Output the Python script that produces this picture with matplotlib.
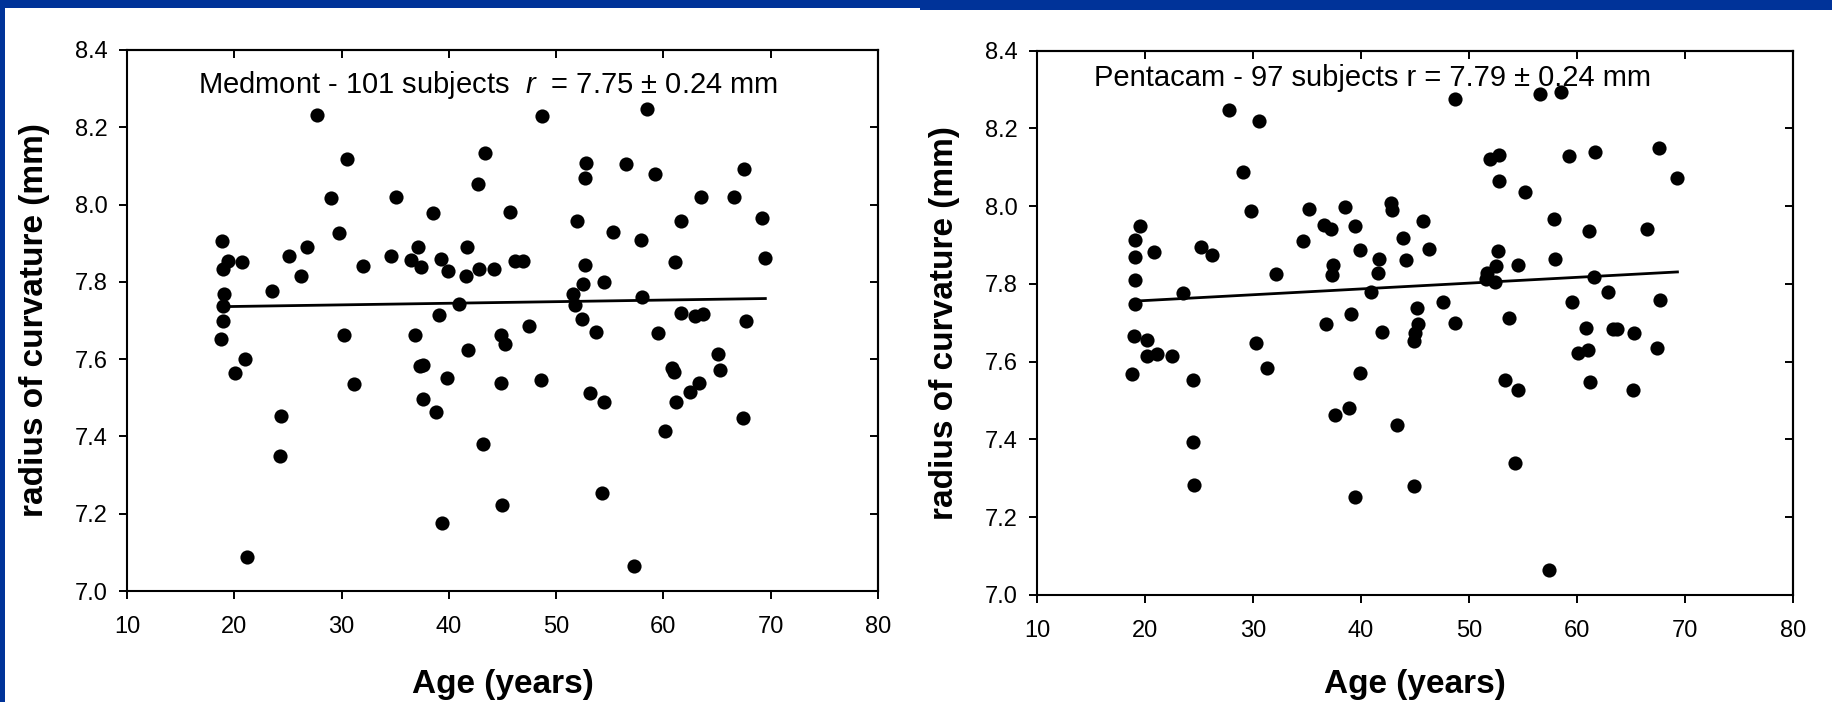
import matplotlib
matplotlib.use("Agg")
import matplotlib.pyplot as plt
from matplotlib.patches import Rectangle
import numpy as np

plt.rcParams['font.family'] = 'Liberation Sans'
plt.rcParams['mathtext.fontset'] = 'custom'
plt.rcParams['mathtext.it'] = 'Liberation Sans:italic'
plt.rcParams['mathtext.rm'] = 'Liberation Sans'

# Medmont readings: age (years) and radius of curvature (mm)
medmont_age = [27.7, 30.5, 43.4, 42.7, 29.0, 35.1, 38.5, 45.7, 29.8, 18.9,
               26.8, 37.1, 41.7, 25.1, 34.6, 19.4, 20.7, 36.5, 39.3, 46.2,
               46.9, 18.95, 32.0, 37.4, 39.9, 42.8, 44.2, 41.6, 26.2, 23.5,
               19.0, 18.95, 40.9, 18.95, 39.1, 18.8, 30.2, 36.8, 41.8, 44.9,
               45.2, 21.0, 37.3, 37.6, 20.1, 31.2, 39.8, 37.6, 38.8, 24.4,
               24.3, 43.2, 45.0, 39.4, 21.2, 48.7, 58.5, 52.8, 52.7, 56.5,
               59.2, 67.5, 63.5, 66.6, 51.9, 61.6, 69.2, 55.3, 57.9, 52.7,
               61.1, 69.5, 52.5, 54.5, 51.6, 51.8, 58.0, 52.4, 61.6, 62.9,
               63.7, 67.7, 47.5, 53.7, 59.5, 65.1, 60.8, 61.0, 65.3, 48.6,
               44.9, 63.3, 62.5, 53.2, 54.5, 61.2, 67.4, 60.1, 54.3, 57.3]
medmont_r = [8.233, 8.118, 8.133, 8.053, 8.017, 8.019, 7.978, 7.980, 7.927, 7.906,
             7.890, 7.890, 7.891, 7.867, 7.868, 7.855, 7.852, 7.857, 7.860, 7.855,
             7.855, 7.832, 7.841, 7.838, 7.828, 7.832, 7.832, 7.814, 7.815, 7.776,
             7.769, 7.737, 7.743, 7.699, 7.715, 7.653, 7.662, 7.662, 7.624, 7.662,
             7.639, 7.601, 7.582, 7.586, 7.563, 7.536, 7.551, 7.496, 7.463, 7.453,
             7.349, 7.381, 7.222, 7.176, 7.088, 8.229, 8.247, 8.108, 8.068, 8.105,
             8.080, 8.092, 8.020, 8.019, 7.957, 7.958, 7.966, 7.929, 7.908, 7.843,
             7.852, 7.863, 7.795, 7.800, 7.769, 7.740, 7.760, 7.704, 7.719, 7.712,
             7.717, 7.699, 7.686, 7.669, 7.667, 7.614, 7.578, 7.568, 7.573, 7.546,
             7.539, 7.539, 7.516, 7.512, 7.489, 7.489, 7.448, 7.413, 7.254, 7.065]

# Pentacam readings
pentacam_age = [27.8, 30.6, 29.1, 29.8, 35.2, 38.5, 42.8, 42.9, 45.7, 19.5,
                19.1, 19.1, 20.8, 19.1, 25.2, 26.2, 34.6, 36.6, 37.2, 39.4,
                39.9, 37.4, 37.3, 32.1, 41.7, 41.6, 43.9, 44.2, 23.5, 40.9,
                19.1, 39.1, 36.8, 45.2, 41.9, 19.0, 20.2, 30.3, 45.3, 45.0,
                44.9, 48.7, 56.6, 58.5, 51.9, 52.8, 59.3, 61.7, 67.6, 69.3,
                52.8, 55.2, 57.9, 61.1, 66.5, 46.3, 52.7, 52.5, 51.7, 51.6,
                52.4, 54.5, 58.0, 61.6, 62.9, 67.7, 59.5, 47.6, 48.7, 53.7,
                60.8, 63.3, 63.7, 65.3, 67.4, 60.1, 61.0, 53.3, 54.5, 61.2,
                65.2, 43.3, 54.3, 44.9, 57.4, 20.2, 21.1, 22.5, 18.8, 24.4,
                31.3, 39.9, 37.6, 38.9, 24.4, 24.5, 39.4]
pentacam_r = [8.248, 8.220, 8.087, 7.988, 7.993, 7.997, 8.008, 7.989, 7.961, 7.948,
              7.914, 7.870, 7.883, 7.811, 7.895, 7.874, 7.911, 7.952, 7.942, 7.949,
              7.887, 7.848, 7.824, 7.825, 7.863, 7.827, 7.917, 7.862, 7.776, 7.780,
              7.749, 7.723, 7.698, 7.739, 7.676, 7.666, 7.656, 7.647, 7.696, 7.673,
              7.654, 8.275, 8.289, 8.294, 8.121, 8.132, 8.130, 8.140, 8.150, 8.073,
              8.065, 8.037, 7.967, 7.935, 7.941, 7.890, 7.884, 7.845, 7.829, 7.813,
              7.804, 7.849, 7.863, 7.818, 7.779, 7.758, 7.753, 7.753, 7.700, 7.712,
              7.688, 7.683, 7.683, 7.674, 7.636, 7.623, 7.630, 7.553, 7.526, 7.548,
              7.526, 7.436, 7.339, 7.280, 7.064, 7.614, 7.619, 7.616, 7.569, 7.552,
              7.584, 7.572, 7.463, 7.480, 7.394, 7.283, 7.253]

# regression lines (intercept, slope)
medmont_fit = [7.728, 0.000415]
pentacam_fit = [7.7275, 0.001493]

x_ticks = [10, 20, 30, 40, 50, 60, 70, 80]
y_ticks = [7.0, 7.2, 7.4, 7.6, 7.8, 8.0, 8.2, 8.4]

W, H = 1833, 702
fig = plt.figure(figsize=(W / 100, H / 100), dpi=100)

# blue slide border
blue = '#003399'
fig.add_artist(Rectangle((0, 1 - 8 / H), 920 / W, 8 / H, transform=fig.transFigure,
                         color=blue, lw=0))
fig.add_artist(Rectangle((920 / W, 1 - 9.5 / H), (W - 920) / W, 9.5 / H,
                         transform=fig.transFigure, color=blue, lw=0))
fig.add_artist(Rectangle((0, 0), 5 / W, 1, transform=fig.transFigure, color=blue, lw=0))


def scatter_panel(ax, age, r, fit, label, label_x, label_y):
    ax.plot(age, r, 'o', color='black', ms=10.2, mec='black', mew=0, zorder=3)
    xs = np.array([min(age), max(age)])
    ax.plot(xs, fit[0] + fit[1] * xs, color='black', lw=2.0, zorder=2)
    ax.text(label_x, label_y, label, fontsize=21, ha='left', va='baseline')

    ax.set_xlim(10, 80)
    ax.set_ylim(7.0, 8.4)
    ax.set_xticks(x_ticks)
    ax.set_yticks(y_ticks)
    ax.set_yticklabels(['%.1f' % v for v in y_ticks])
    ax.tick_params(axis='both', direction='out', length=6, width=1.4, labelsize=17,
                   top=False, right=False)
    ax.tick_params(axis='x', pad=12)
    ax.tick_params(axis='y', pad=8)
    for s in ax.spines.values():
        s.set_linewidth(1.5)

    # inward ticks on the top and right edges
    top = ax.secondary_xaxis('top')
    top.set_xticks(x_ticks)
    top.tick_params(direction='in', length=6, width=1.4, labeltop=False)
    top.spines['top'].set_linewidth(1.5)
    right = ax.secondary_yaxis('right')
    right.set_yticks(y_ticks)
    right.tick_params(direction='in', length=6, width=1.4, labelright=False)
    right.spines['right'].set_linewidth(1.5)

    ax.set_xlabel('Age (years)', fontsize=24, fontweight='bold')
    ax.set_ylabel('radius of curvature (mm)', fontsize=24, fontweight='bold')
    ax.xaxis.label.set_va('baseline')
    ax.yaxis.label.set_va('center')


ax1 = fig.add_axes([127 / W, 1 - 591 / H, 751 / W, 541 / H])
scatter_panel(ax1, medmont_age, medmont_r, medmont_fit,
              'Medmont - 101 subjects  $r$  = 7.75 \u00b1 0.24 mm', 16.6, 8.289)
ax1.xaxis.set_label_coords(0.5, -(693 - 591) / 541)
ax1.yaxis.set_label_coords(-92 / 751, 0.5)

ax2 = fig.add_axes([1037 / W, 1 - 595 / H, 756 / W, 544.3 / H])
scatter_panel(ax2, pentacam_age, pentacam_r, pentacam_fit,
              'Pentacam - 97 subjects r = 7.79 \u00b1 0.24 mm', 15.3, 8.309)
ax2.xaxis.set_label_coords(0.5, -(693 - 595) / 544.3)
ax2.yaxis.set_label_coords(-92 / 756, 0.5)

fig.savefig('out.png', dpi=100)
